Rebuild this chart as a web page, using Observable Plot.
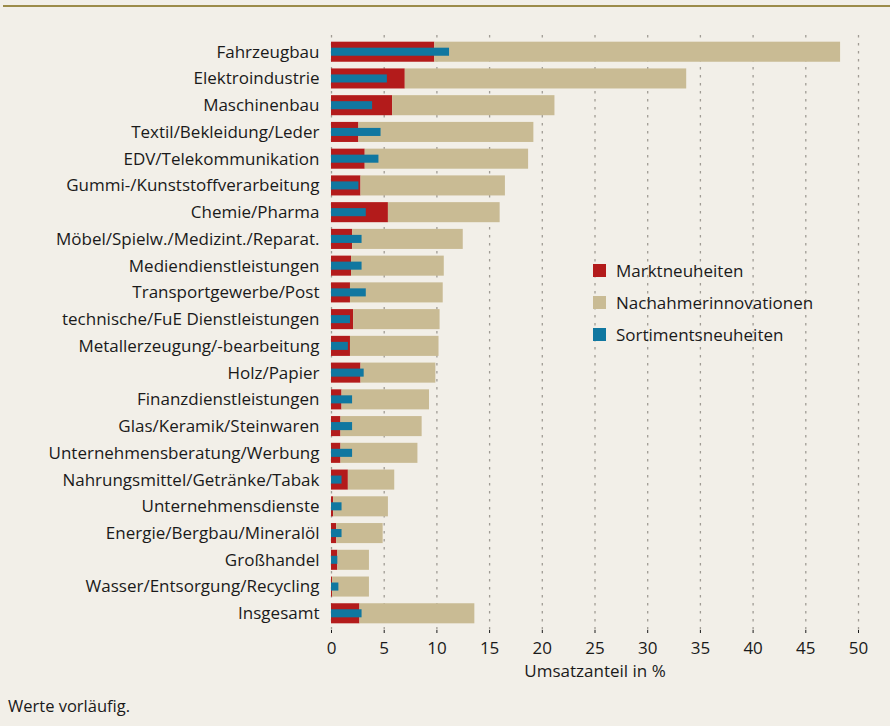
<!DOCTYPE html>
<html>
<head>
<meta charset="utf-8">
<script src="https://cdn.jsdelivr.net/npm/d3@7"></script>
<script src="https://cdn.jsdelivr.net/npm/@observablehq/plot@0.6"></script>
<style>
  html, body { margin: 0; padding: 0; background: #f2efe8; }
  #wrap { position: relative; width: 890px; height: 726px; background: #f2efe8; font-family: "Open Sans", sans-serif; color: #1a1a1a; }
  #topline { position: absolute; left: 3px; right: 0; top: 5px; height: 2px; background: #9c8c4a; }
  #chart { position: absolute; left: 0; top: 0; }
  #legend { position: absolute; left: 593px; top: 254px; font-size: 17px; }
  #legend div { height: 32px; display: flex; align-items: center; }
  #legend span.sw { display: inline-block; width: 13px; height: 13px; margin-right: 10px; }
  #note { position: absolute; left: 8px; top: 694px; font-size: 16.5px; }
</style>
</head>
<body>
<div id="wrap">
  <div id="chart"></div>
  <div id="topline"></div>
  <div id="legend"></div>
  <div id="note">Werte vorläufig.</div>
</div>
<script>
const categories = [
  "Fahrzeugbau", "Elektroindustrie", "Maschinenbau", "Textil/Bekleidung/Leder",
  "EDV/Telekommunikation", "Gummi-/Kunststoffverarbeitung", "Chemie/Pharma",
  "Möbel/Spielw./Medizint./Reparat.", "Mediendienstleistungen", "Transportgewerbe/Post",
  "technische/FuE Dienstleistungen", "Metallerzeugung/-bearbeitung", "Holz/Papier",
  "Finanzdienstleistungen", "Glas/Keramik/Steinwaren", "Unternehmensberatung/Werbung",
  "Nahrungsmittel/Getränke/Tabak", "Unternehmensdienste", "Energie/Bergbau/Mineralöl",
  "Großhandel", "Wasser/Entsorgung/Recycling", "Insgesamt"
];
// Marktneuheiten
const markt = [9.8, 7.0, 5.8, 2.6, 3.2, 2.8, 5.4, 2.0, 1.9, 1.8, 2.1, 1.8, 2.8, 1.0, 0.9, 0.9, 1.6, 0.2, 0.5, 0.6, 0.1, 2.7];
// Nachahmerinnovationen
const nachahmer = [38.5, 26.7, 15.4, 16.6, 15.5, 13.7, 10.6, 10.5, 8.8, 8.8, 8.2, 8.4, 7.1, 8.3, 7.7, 7.3, 4.4, 5.2, 4.4, 3.0, 3.5, 10.9];
// Sortimentsneuheiten
const sortiment = [11.2, 5.3, 3.9, 4.7, 4.5, 2.6, 3.3, 2.9, 2.9, 3.3, 1.8, 1.6, 3.1, 2.0, 2.0, 2.0, 1.0, 1.0, 1.0, 0.6, 0.7, 2.9];
const xTicks = [0, 5, 10, 15, 20, 25, 30, 35, 40, 45, 50];

const series = [
  {name: "Marktneuheiten", color: "#b31b1b"},
  {name: "Nachahmerinnovationen", color: "#c9bb94"},
  {name: "Sortimentsneuheiten", color: "#1077a0"}
];

const rows = categories.map((c, i) => ({cat: c, m: markt[i], n: nachahmer[i], t: markt[i] + nachahmer[i], s: sortiment[i]}));

const chart = Plot.plot({
  width: 890,
  height: 690,
  marginLeft: 331,
  marginRight: 32,
  marginTop: 35,
  marginBottom: 60,
  style: {background: "transparent", fontFamily: "Open Sans, sans-serif", fontSize: "17px", color: "#1a1a1a"},
  x: {domain: [0, 50], ticks: xTicks, label: "Umsatzanteil in %", labelArrow: "none", labelAnchor: "center", labelOffset: 46, tickSize: 3, tickPadding: 8},
  y: {domain: categories, padding: 0.25, round: false, label: null, tickSize: 0, tickPadding: 12},
  marks: [
    Plot.ruleX(xTicks, {stroke: "#a09c94", strokeWidth: 1.3, strokeDasharray: "2.5,5.5"}),
    Plot.barX(rows, {y: "cat", x1: 0, x2: "m", fill: series[0].color}),
    Plot.barX(rows, {y: "cat", x1: "m", x2: "t", fill: series[1].color}),
    Plot.barX(rows, {y: "cat", x1: 0, x2: "s", fill: series[2].color, insetTop: 6, insetBottom: 6})
  ]
});
document.getElementById("chart").appendChild(chart);

const leg = document.getElementById("legend");
series.forEach(s => {
  const d = document.createElement("div");
  d.innerHTML = `<span class="sw" style="background:${s.color}"></span>${s.name}`;
  leg.appendChild(d);
});
</script>
</body>
</html>
